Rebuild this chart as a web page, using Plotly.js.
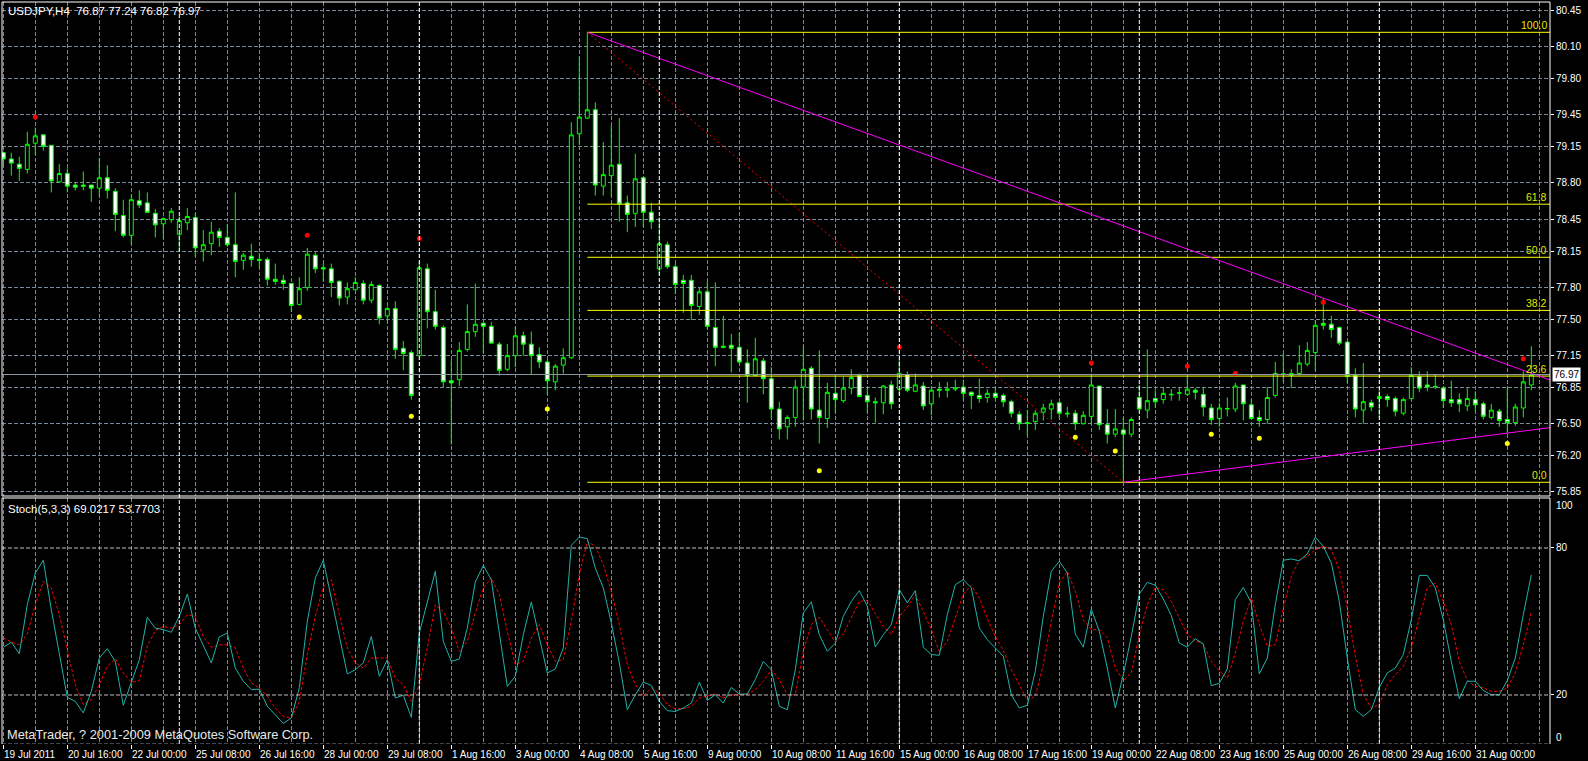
<!DOCTYPE html>
<html><head><meta charset="utf-8">
<script src="https://cdn.plot.ly/plotly-3.0.1.min.js"></script>
<style>html,body{margin:0;padding:0;background:#000;}#chart{width:1588px;height:761px;}</style>
</head><body><div id="chart"></div>
<script>
// ---------- DATA ----------
const symbol = 'USDJPY,H4';
const open = [79.09,79.03,78.98,78.93,79.18,79.26,79.16,78.81,78.89,78.78,
78.78,78.78,78.75,78.85,78.72,78.49,78.30,78.63,78.61,78.51,
78.41,78.45,78.31,78.42,78.47,78.16,78.22,78.34,78.28,78.21,
78.06,78.10,78.07,78.07,77.88,77.87,77.84,77.64,77.80,78.11,
77.99,77.98,77.86,77.71,77.78,77.84,77.68,77.82,77.53,77.60,
77.22,77.18,77.15,77.98,77.57,77.42,76.91,76.92,77.21,77.38,
77.46,77.43,77.26,77.02,77.15,77.34,77.26,77.16,77.09,76.90,
77.06,77.13,79.27,79.42,79.50,78.77,78.87,78.98,78.61,78.51,
78.85,78.52,77.98,78.21,78.00,77.87,77.87,77.62,77.76,77.42,
77.24,77.25,77.23,77.08,76.96,77.10,76.93,76.64,76.47,76.56,
76.85,77.03,76.63,76.55,76.79,76.72,76.84,76.96,76.77,76.71,
76.70,76.87,76.83,76.97,76.81,76.86,76.69,76.83,76.82,76.83,
76.85,76.80,76.77,76.75,76.79,76.77,76.71,76.59,76.51,76.52,
76.61,76.64,76.70,76.60,76.60,76.50,76.57,76.86,76.49,76.40,
76.44,76.40,76.75,76.63,76.74,76.73,76.776,76.79,76.78,76.82,
76.78,76.65,76.55,76.64,76.64,76.87,76.68,76.56,76.54,76.77,
76.97,76.96,76.98,77.07,77.18,77.46,77.45,77.42,77.28,76.96,
76.63,76.70,76.74,76.76,76.74,76.60,76.74,76.95,76.87,76.856,
76.84,76.73,76.73,76.67,76.73,76.69,76.56,76.62,76.54,76.51,
76.65,76.87];
const high = [79.10,79.09,79.05,79.29,79.33,79.26,79.16,78.98,78.94,78.80,
78.91,78.78,79.04,78.97,78.75,78.64,78.69,78.73,78.71,78.55,
78.47,78.56,78.48,78.56,78.51,78.35,78.43,78.37,78.41,78.71,
78.13,78.22,78.13,78.09,78.03,77.92,77.84,77.90,78.18,78.14,
78.03,78.03,77.87,77.85,77.90,77.87,77.86,77.83,77.62,77.67,
77.29,77.20,78.05,78.03,77.78,77.44,77.11,77.28,77.64,77.84,
77.46,77.47,77.28,77.26,77.43,77.38,77.38,77.23,77.11,77.07,
77.22,79.38,80.01,80.24,79.57,79.19,79.35,79.42,78.68,79.08,
78.85,78.61,78.47,78.24,78.03,77.92,77.92,77.80,77.86,77.85,
77.53,77.36,77.37,77.21,77.32,77.13,77.04,76.71,76.58,76.92,
77.24,77.05,77.20,76.89,76.95,76.95,77.02,76.98,76.85,76.75,
76.87,76.91,77.11,77.00,76.98,76.90,76.85,76.90,76.90,76.92,
76.92,76.81,76.93,76.83,76.85,76.79,76.73,76.62,76.63,76.63,
76.69,76.73,76.71,76.66,76.63,76.62,76.98,76.86,76.64,76.64,
76.56,76.56,76.87,77.21,76.82,76.85,76.83,76.85,76.95,76.84,
76.85,76.69,76.70,76.75,76.89,76.87,76.73,76.63,76.85,77.09,
77.17,77.02,77.25,77.28,77.49,77.70,77.53,77.43,77.28,77.03,
77.08,76.73,76.82,76.78,76.76,76.75,77.04,77.00,77.00,76.97,
76.85,76.91,76.79,76.84,76.81,76.71,76.69,76.64,76.85,76.69,
77.00,77.24];
const low = [78.97,78.87,78.82,78.89,79.07,79.11,78.71,78.81,78.71,78.73,
78.73,78.62,78.67,78.65,78.34,78.28,78.21,78.56,78.51,78.28,
78.27,78.42,78.14,78.35,78.10,78.05,78.11,78.19,78.19,77.90,
77.97,78.00,77.99,77.82,77.83,77.78,77.57,77.63,77.77,77.94,
77.86,77.71,77.63,77.64,77.78,77.64,77.65,77.45,77.48,77.12,
77.01,76.73,77.15,77.41,77.40,76.85,76.30,76.86,77.19,77.33,
77.17,77.26,76.96,77.00,77.04,77.15,76.97,77.03,76.78,76.82,
76.98,77.12,79.16,79.41,78.68,78.68,78.67,78.43,78.33,78.38,
78.38,78.36,77.92,77.98,77.74,77.56,77.49,77.54,77.40,77.05,
77.22,76.99,77.07,76.70,76.95,76.78,76.55,76.35,76.35,76.47,
76.53,76.54,76.31,76.46,76.60,76.70,76.78,76.75,76.60,76.51,
76.59,76.64,76.78,76.80,76.80,76.63,76.58,76.75,76.75,76.81,
76.73,76.64,76.70,76.70,76.73,76.66,76.56,76.44,76.39,76.44,
76.53,76.54,76.55,76.56,76.44,76.49,76.50,76.44,76.31,76.37,
75.94,76.37,76.63,76.55,76.65,76.69,76.72,76.72,76.78,76.73,
76.57,76.49,76.47,76.57,76.61,76.53,76.54,76.47,76.50,76.75,
76.90,76.84,76.96,77.05,77.01,77.40,77.32,77.25,76.89,76.56,
76.50,76.62,76.56,76.66,76.57,76.58,76.74,76.80,76.81,76.83,
76.65,76.66,76.61,76.62,76.62,76.54,76.54,76.47,76.41,76.48,
76.56,76.82];
const close = [79.03,78.99,78.94,79.17,79.25,79.15,78.82,78.89,78.77,78.76,
78.77,78.75,78.85,78.73,78.50,78.30,78.64,78.59,78.52,78.40,
78.46,78.53,78.44,78.48,78.18,78.21,78.33,78.28,78.21,78.05,
78.11,78.07,78.06,77.88,77.86,77.84,77.63,77.79,78.12,77.98,
77.98,77.85,77.70,77.79,77.85,77.68,77.83,77.51,77.60,77.21,
77.17,76.77,77.99,77.57,77.43,76.90,76.89,77.20,77.38,77.45,
77.43,77.27,77.01,77.15,77.34,77.26,77.15,77.09,76.91,77.05,
77.13,79.26,79.43,79.50,78.78,78.88,78.97,78.60,78.50,78.84,
78.52,78.43,78.22,78.00,77.83,77.84,77.63,77.76,77.43,77.23,
77.23,77.22,77.09,76.96,77.12,76.93,76.64,76.45,76.56,76.85,
77.02,76.64,76.56,76.80,76.73,76.84,76.94,76.76,76.71,76.70,
76.86,76.69,76.98,76.82,76.87,76.67,76.82,76.82,76.83,76.84,
76.79,76.77,76.74,76.79,76.75,76.71,76.60,76.50,76.505,76.60,
76.65,76.69,76.60,76.595,76.50,76.58,76.87,76.49,76.40,76.45,
76.40,76.54,76.64,76.72,76.71,76.79,76.78,76.795,76.83,76.80,
76.66,76.54,76.65,76.645,76.86,76.69,76.55,76.53,76.75,76.98,
76.975,76.98,77.08,77.20,77.44,77.44,77.40,77.27,76.95,76.64,
76.71,76.66,76.76,76.73,76.62,76.73,76.96,76.84,76.85,76.854,
76.72,76.70,76.69,76.74,76.68,76.57,76.63,76.53,76.51,76.66,
76.90,76.97];

const fractalUpBars = [4,38,52,112,136,148,154,165,190];
const fractalUpPrice = [79.43,78.30,78.27,77.23,77.08,77.05,76.98,77.66,77.12];
const fractalDnBars = [37,51,68,102,134,139,151,157,188];
const fractalDnPrice = [77.52,76.57,76.64,76.05,76.37,76.24,76.40,76.36,76.31];

const stochMain = [39.5,41.5,36.9,56.9,69.8,75.0,54.8,36.5,19.0,17.4,
12.7,21.5,35.1,38.9,33.7,15.8,24.9,34.4,51.7,47.3,
46.7,45.6,52.1,61.2,47.3,40.5,33.1,43.7,45.3,31.0,
25.6,22.2,22.4,15.4,12.0,8.4,10.6,22.9,50.1,67.8,
75.0,59.6,43.9,28.6,30.3,33.1,43.9,27.6,34.4,18.8,
19.9,10.9,45.3,58.2,70.5,41.9,33.7,34.7,47.3,66.1,
72.9,67.1,46.0,23.5,27.6,44.6,58.0,43.3,29.0,30.6,
39.2,81.1,84.5,83.8,71.8,63.7,49.4,33.1,14.0,20.1,
25.3,23.9,17.4,13.6,13.3,14.7,16.7,25.2,17.8,20.1,
16.7,23.1,20.4,20.4,26.3,33.7,30.3,15.4,14.0,30.3,
53.5,58.0,44.6,37.8,41.2,52.1,58.2,62.6,56.2,39.6,
44.6,48.7,63.0,57.6,62.6,39.5,36.5,36.2,52.8,65.0,
67.1,63.7,47.3,42.6,39.2,35.8,20.1,14.7,15.8,29.7,
52.1,70.5,74.6,69.8,44.9,39.5,55.1,46.0,31.0,14.7,
28.3,43.9,61.2,66.0,64.8,59.2,52.4,41.2,39.5,43.0,
40.8,23.8,24.8,30.6,58.9,63.9,57.6,28.6,35.1,56.9,
75.0,75.5,74.8,77.6,84.4,80.7,73.9,58.2,35.1,14.0,
11.3,14.0,23.1,29.0,31.0,36.5,50.7,68.8,68.8,63.7,
50.7,33.7,18.5,25.6,25.6,21.8,20.1,20.1,25.9,35.1,
52.8,69.0217];
const stochSignal = [43.3,41.6,40.5,45.0,56.9,66.4,63.7,52.8,38.5,24.2,
16.1,18.1,24.2,31.7,34.8,29.0,25.2,25.9,39.9,46.3,
48.0,47.3,48.7,52.8,52.1,43.9,39.5,40.5,40.5,39.2,
31.0,24.9,22.9,19.5,14.7,11.3,10.6,17.4,36.5,52.1,
64.1,67.1,52.8,39.2,33.1,31.0,35.1,35.1,35.1,26.9,
24.2,17.4,24.2,39.2,56.9,54.1,47.3,37.8,41.9,53.5,
63.7,67.8,61.0,46.0,32.4,33.7,43.3,48.7,40.5,33.7,
34.4,50.1,69.1,82.7,80.7,73.2,62.3,48.7,32.4,24.2,
19.5,22.9,20.8,16.1,14.4,14.4,15.4,18.8,19.7,20.4,
18.8,20.1,20.1,20.1,22.2,25.6,30.3,26.3,20.1,20.1,
37.8,48.7,51.7,46.7,41.6,44.9,51.4,58.2,58.5,53.1,
48.0,44.6,52.1,55.8,61.0,54.1,46.7,37.8,41.9,51.4,
61.2,64.8,59.6,51.2,43.9,38.2,30.3,24.2,17.8,19.5,
32.4,50.1,65.7,70.5,62.3,50.7,46.7,46.7,43.3,31.0,
25.9,29.0,44.6,56.9,63.9,63.0,58.2,51.4,44.6,42.2,
40.8,33.7,29.9,26.9,37.1,50.1,59.6,48.7,39.9,40.5,
55.5,68.4,75.2,76.6,79.3,80.7,79.3,71.2,55.5,35.8,
20.1,14.7,16.1,24.2,28.3,31.7,39.2,51.4,63.7,65.7,
58.2,48.7,33.7,25.9,23.5,22.9,21.5,21.5,22.9,29.0,
40.5,53.7703];

const timeLabels = ['19 Jul 2011','20 Jul 16:00','22 Jul 00:00','25 Jul 08:00','26 Jul 16:00','28 Jul 00:00',
'29 Jul 08:00','1 Aug 16:00','3 Aug 00:00','4 Aug 08:00','5 Aug 16:00','9 Aug 00:00','10 Aug 08:00',
'11 Aug 16:00','15 Aug 00:00','16 Aug 08:00','17 Aug 16:00','19 Aug 00:00','22 Aug 08:00','23 Aug 16:00',
'25 Aug 00:00','26 Aug 08:00','29 Aug 16:00','31 Aug 00:00'];
const timeLabelBars = [0,8,16,24,32,40,48,56,64,72,80,88,96,104,112,120,128,136,144,152,160,168,176,184];
const weekStartBars = [22,52,82,112,142,172];
const priceTicks = [80.45,80.10,79.80,79.45,79.15,78.80,78.45,78.15,77.80,77.50,77.15,76.85,76.50,76.20,75.85];
const stochLevels = [80,20];
const fibHighBar = 73, fibHigh = 80.24, fibLowBar = 140, fibLow = 75.94;
const fibLevels = [100, 61.8, 50, 38.2, 23.6, 0];
const trendDownBars = [73,165], trendDownPrices = [80.24,77.70];
const trendUpBars = [140,188], trendUpPrices = [75.94,76.41];

// ---------- BUILD ----------
const bars = open.map((_, i) => i);
const xRange = [-0.1625, 193.3375];
const xEnd = xRange[1];
const priceDom = [0.33423, 1];
const stochDom = [0, 0.33154];
const grid = '#778899';
const gdash = '4px,2px';
const font = 'Liberation Sans, Arial, sans-serif';
const last = open.length - 1;

function ray(bx, py) {
  const slope = (py[1] - py[0]) / (bx[1] - bx[0]);
  return {x: [bx[0], xEnd], y: [py[0], py[0] + slope * (xEnd - bx[0])]};
}

const data = [];
data.push({type:'candlestick', x: bars, open, high, low, close, xaxis:'x', yaxis:'y',
  increasing:{line:{color:'#00FF00', width:1}, fillcolor:'#000000'},
  decreasing:{line:{color:'#00FF00', width:1}, fillcolor:'#FFFFFF'},
  whiskerwidth:0, hoverinfo:'skip'});

data.push({type:'scatter', mode:'lines', x:[fibHighBar, fibLowBar], y:[fibHigh, fibLow],
  line:{color:'#FF0000', width:1, dash:'2px,3px'}, xaxis:'x', yaxis:'y', hoverinfo:'skip'});
fibLevels.forEach(l => {
  const p = fibLow + (fibHigh - fibLow) * l / 100;
  data.push({type:'scatter', mode:'lines', x:[fibHighBar, xEnd], y:[p, p],
    line:{color:'#FFFF00', width:1}, xaxis:'x', yaxis:'y', hoverinfo:'skip'});
});
[ray(trendDownBars, trendDownPrices), ray(trendUpBars, trendUpPrices)].forEach(r => {
  data.push({type:'scatter', mode:'lines', x:r.x, y:r.y, line:{color:'#FF00FF', width:1},
    xaxis:'x', yaxis:'y', hoverinfo:'skip'});
});
data.push({type:'scatter', mode:'markers', x:fractalUpBars, y:fractalUpPrice,
  marker:{color:'#FF0000', size:5}, xaxis:'x', yaxis:'y', hoverinfo:'skip'});
data.push({type:'scatter', mode:'markers', x:fractalDnBars, y:fractalDnPrice,
  marker:{color:'#FFFF00', size:5}, xaxis:'x', yaxis:'y', hoverinfo:'skip'});
data.push({type:'scatter', mode:'lines', x:bars, y:stochSignal, line:{color:'#FF0000', width:1, dash:'3px,2px'},
  xaxis:'x', yaxis:'y2', hoverinfo:'skip'});
data.push({type:'scatter', mode:'lines', x:bars, y:stochMain, line:{color:'#20B2AA', width:1},
  xaxis:'x', yaxis:'y2', hoverinfo:'skip'});

const minorBars = [];
for (let b = 4; b <= 192; b += 8) minorBars.push(b);
minorBars.push(192);

const shapes = [];
weekStartBars.forEach(b => shapes.push({type:'line', xref:'x', yref:'paper', x0:b, x1:b, y0:0, y1:1,
  line:{color:'#FFFFFF', width:1, dash:gdash}}));
stochLevels.forEach(v => shapes.push({type:'line', xref:'paper', yref:'y2', x0:0, x1:1, y0:v, y1:v,
  line:{color:'#C0C0C0', width:1, dash:gdash}}));
shapes.push({type:'line', xref:'paper', yref:'y2', x0:0, x1:1, y0:0, y1:0, line:{color:grid, width:1, dash:gdash}});
shapes.push({type:'line', xref:'paper', yref:'y', x0:0, x1:1, y0:close[last], y1:close[last], line:{color:'#8C96A0', width:1}});
shapes.push({type:'rect', xref:'paper', yref:'paper', x0:0, x1:1, y0:priceDom[0], y1:priceDom[1], line:{color:'#FFFFFF', width:1}});
shapes.push({type:'line', xref:'paper', yref:'paper', x0:0, x1:1, y0:stochDom[1], y1:stochDom[1], line:{color:'#FFFFFF', width:1}});
shapes.push({type:'line', xref:'paper', yref:'paper', x0:0, x1:0, y0:0, y1:stochDom[1], line:{color:'#FFFFFF', width:1}});
shapes.push({type:'line', xref:'paper', yref:'paper', x0:1, x1:1, y0:0, y1:stochDom[1], line:{color:'#FFFFFF', width:1}});

const tf = {family:font, size:10, color:'#FFFFFF'};
const hf = {family:font, size:11.5, color:'#FFFFFF'};
const annotations = [];
annotations.push({xref:'paper', yref:'paper', x:0, y:1, xanchor:'left', yanchor:'top', xshift:4, yshift:-1,
  showarrow:false, font:hf,
  text: symbol + '\u00a0\u00a0' + [open[last], high[last], low[last], close[last]].map(v => v.toFixed(2)).join(' ')});
annotations.push({xref:'paper', yref:'paper', x:0, y:stochDom[1], xanchor:'left', yanchor:'top', xshift:4, yshift:-3,
  showarrow:false, font:hf,
  text: 'Stoch(5,3,3) ' + stochMain[last].toFixed(4) + ' ' + stochSignal[last].toFixed(4)});
annotations.push({xref:'paper', yref:'paper', x:0, y:0, xanchor:'left', yanchor:'bottom', xshift:3, yshift:0,
  showarrow:false, font:{family:font, size:12.8, color:'#E8E8E8'},
  text:'MetaTrader, ? 2001-2009 MetaQuotes Software Corp.'});
fibLevels.forEach(l => {
  const p = fibLow + (fibHigh - fibLow) * l / 100;
  annotations.push({xref:'paper', yref:'y', x:1, y:p, xanchor:'right', yanchor:'bottom', xshift:-1, yshift:-1,
    showarrow:false, font:{family:font, size:10.5, color:'#E6E600'}, text:l.toFixed(1)});
});
annotations.push({xref:'paper', yref:'y', x:1, y:close[last], xanchor:'left', yanchor:'middle', xshift:2,
  showarrow:false, bgcolor:'#FFFFFF', borderpad:1, font:{family:font, size:10, color:'#000000'}, text:close[last].toFixed(2)});
annotations.push({xref:'paper', yref:'paper', x:1, y:0.3221, xanchor:'left', yanchor:'middle', xshift:4,
  showarrow:false, font:tf, text:'100'});
annotations.push({xref:'paper', yref:'paper', x:1, y:0.0090, xanchor:'left', yanchor:'middle', xshift:4,
  showarrow:false, font:tf, text:'0'});
timeLabels.forEach((t, k) => annotations.push({xref:'x', yref:'paper', x:timeLabelBars[k], y:0,
  xanchor:'left', yanchor:'middle', xshift:-1, yshift:-10, showarrow:false, font:tf, text:t}));

const layout = {
  width:1588, height:761,
  margin:{l:2, r:38, t:2, b:17, pad:0},
  paper_bgcolor:'#000000', plot_bgcolor:'#000000',
  showlegend:false, hovermode:false,
  font:{family:font, size:10, color:'#FFFFFF'},
  xaxis:{domain:[0,1], anchor:'y2', range:xRange, automargin:false,
    tickmode:'array', tickvals:timeLabelBars, showticklabels:false,
    ticks:'outside', ticklen:4, tickcolor:'#FFFFFF',
    showgrid:true, gridcolor:grid, griddash:gdash, gridwidth:1,
    minor:{tickmode:'array', tickvals:minorBars, showgrid:true, gridcolor:grid, griddash:gdash, gridwidth:1, ticks:''},
    zeroline:false, showline:false, rangeslider:{visible:false}},
  yaxis:{domain:priceDom, anchor:'x', side:'right', range:[75.809, 80.5295], automargin:false,
    tickmode:'array', tickvals:priceTicks, tickformat:'.2f',
    ticks:'outside', ticklen:3, tickcolor:'#FFFFFF', tickfont:tf,
    showgrid:true, gridcolor:grid, griddash:gdash, gridwidth:1, zeroline:false, showline:false},
  yaxis2:{domain:stochDom, anchor:'x', side:'right', range:[0, 100.41], automargin:false,
    tickmode:'array', tickvals:stochLevels, ticks:'outside', ticklen:3, tickcolor:'#FFFFFF', tickfont:tf,
    showgrid:false, zeroline:false, showline:false},
  shapes, annotations
};

Plotly.newPlot('chart', data, layout, {staticPlot:true, displayModeBar:false});
</script>
</body></html>
